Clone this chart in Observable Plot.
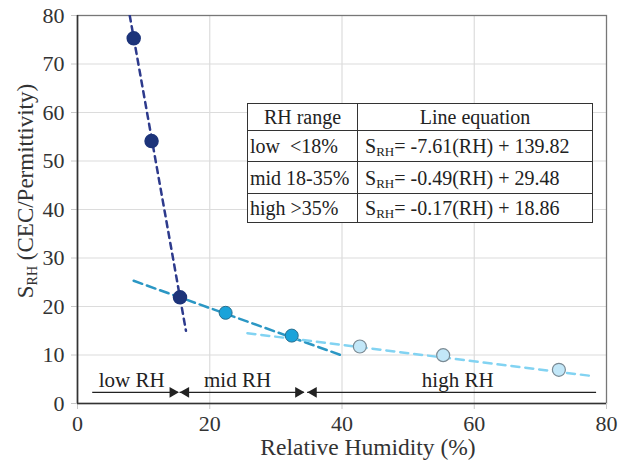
<!DOCTYPE html>
<html><head><meta charset="utf-8">
<script src="https://cdn.jsdelivr.net/npm/d3@7"></script>
<script src="https://cdn.jsdelivr.net/npm/@observablehq/plot@0.6"></script>
<style>
body{margin:0;background:#fff;}
#wrap{position:relative;width:621px;height:463px;font-family:'Liberation Serif','Times New Roman',serif;}
#wrap svg, #wrap svg text{font-family:'Liberation Serif','Times New Roman',serif !important;}
#tbl{position:absolute;left:247px;top:103px;width:345px;table-layout:fixed;border-collapse:collapse;background:#fff;font-size:20px;color:#222;font-family:'Liberation Serif','Times New Roman',serif;}
#tbl td{border:1.5px solid #333;padding:0 3px;white-space:pre;line-height:1;box-sizing:border-box;overflow:visible;}
#tbl sub{font-size:13px;vertical-align:baseline;position:relative;top:3px;}
</style></head><body><div id="wrap"></div>
<script>
// Data
const lowRH = [8.5, 11.2, 15.5];
const lowS = [75.3, 54.1, 21.9];
const midRH = [22.4, 32.4];
const midS = [18.7, 14.0];
const highRH = [42.7, 55.3, 72.8];
const highS = [11.75, 9.96, 6.95];

// Fit line end points
const lowFitX = [7.9, 16.4], lowFitY = [80, 15.0];
const midFitX = [8.5, 40.0], midFitY = [25.3, 9.9];
const highFitX = [25.7, 78.2], highFitY = [14.5, 5.6];

// RH range arrows
const rangeNames = ["low RH", "mid RH", "high RH"];
const rangeStart = [2.3, 15.5, 34.8];
const rangeEnd = [15.3, 34.3, 78.5];
const rangeLabelX = [8.2, 24.2, 57.5];
const arrowY = 2.3, labelY = 4.7;

// Table
const tableHeader = ["RH range", "Line equation"];
const tableRanges = ["low  <18%", "mid 18-35%", "high >35%"];
const slopes = ["-7.61", "-0.49", "-0.17"];
const intercepts = ["139.82", "29.48", "18.86"];

const xTicks = [0, 20, 40, 60, 80];
const yTicks = [0, 10, 20, 30, 40, 50, 60, 70, 80];

const pts = (xs, ys) => xs.map((x, i) => ({x, y: ys[i]}));
const arrows = rangeNames.map((n, i) => ({name: n, x1: rangeStart[i], x2: rangeEnd[i], y: arrowY, lx: rangeLabelX[i]}));
const rightHeads = [{x: rangeEnd[0], y: arrowY}, {x: rangeEnd[1], y: arrowY}];
const leftHeads = [{x: rangeStart[1], y: arrowY}, {x: rangeStart[2], y: arrowY}];

const chart = Plot.plot({
  width: 621, height: 463,
  marginLeft: 77, marginRight: 15, marginTop: 15, marginBottom: 60,
  style: {fontSize: "22px", color: "#333", background: "#fff", overflow: "visible"},
  x: {domain: [0, 80]},
  y: {domain: [0, 80]},
  marks: [
    Plot.gridX([20, 40, 60], {stroke: "#dcdcdc", strokeOpacity: 1, strokeWidth: 1.2}),
    Plot.gridY(yTicks.slice(1, -1), {stroke: "#dcdcdc", strokeOpacity: 1, strokeWidth: 1.2}),
    Plot.frame({stroke: "#777", strokeWidth: 1.3}),
    Plot.axisX({ticks: xTicks, tickSize: 6, tickPadding: 6, label: null, stroke: "#c8c8c8", fill: "#333"}),
    Plot.axisY({ticks: yTicks, tickSize: 6, tickPadding: 7, label: null, stroke: "#c8c8c8", fill: "#333"}),
    Plot.ruleX([0], {stroke: "#333", strokeWidth: 1.6}),
    Plot.ruleY([0], {stroke: "#333", strokeWidth: 1.6}),
    Plot.line(pts(lowFitX, lowFitY), {x: "x", y: "y", stroke: "#2D3A8C", strokeWidth: 2.5, strokeDasharray: "6,5", clip: true}),
    Plot.line(pts(midFitX, midFitY), {x: "x", y: "y", stroke: "#2B97C4", strokeWidth: 2.5, strokeDasharray: "9,5"}),
    Plot.line(pts(highFitX, highFitY), {x: "x", y: "y", stroke: "#82D3F2", strokeWidth: 2.5, strokeDasharray: "8,6"}),
    Plot.dot(pts(lowRH, lowS), {x: "x", y: "y", r: 6.5, fill: "#1D347A", stroke: "#1D347A"}),
    Plot.dot(pts(midRH, midS), {x: "x", y: "y", r: 6.5, fill: "#1AA3DA", stroke: "#2A6F8F", strokeWidth: 1}),
    Plot.dot(pts(highRH, highS), {x: "x", y: "y", r: 6.5, fill: "#C2E7F8", stroke: "#7A8A94", strokeWidth: 1.2}),
    Plot.ruleY(arrows, {x1: "x1", x2: "x2", y: "y", stroke: "#222", strokeWidth: 1.4}),
    Plot.dot(rightHeads, {x: "x", y: "y", symbol: "triangle", rotate: 90, r: 4, dx: -6, fill: "#222", stroke: "none"}),
    Plot.dot(leftHeads, {x: "x", y: "y", symbol: "triangle", rotate: -90, r: 4, dx: 6, fill: "#222", stroke: "none"}),
    Plot.text(arrows, {x: "lx", y: labelY, text: "name", fill: "#222", fontSize: 21})
  ]
});

const wrap = document.getElementById("wrap");
wrap.appendChild(chart);

const svg = d3.select(chart);
// X axis title
svg.append("text")
  .attr("x", 368).attr("y", 455)
  .attr("text-anchor", "middle")
  .attr("fill", "#333")
  .style("font-size", "23.5px")
  .text("Relative Humidity (%)");
// Y axis title with subscript
const yt = svg.append("text")
  .attr("transform", "translate(33,191) rotate(-90)")
  .attr("text-anchor", "middle")
  .attr("fill", "#333")
  .style("font-size", "23px");
yt.append("tspan").text("S");
yt.append("tspan").attr("dy", 4).style("font-size", "14px").text("RH");
yt.append("tspan").attr("dy", -4).text(" (CEC/Permittivity)");

// Table overlay
const colW = [110, 235];
const rowH = [27, 31, 32, 29];
const table = document.createElement("table");
table.id = "tbl";
let html = `<colgroup><col style="width:${colW[0]}px"><col style="width:${colW[1]}px"></colgroup>`;
html += `<tr style="height:${rowH[0]}px"><td style="text-align:center">${tableHeader[0]}</td><td style="text-align:center">${tableHeader[1]}</td></tr>`;
tableRanges.forEach((r, i) => {
  html += `<tr style="height:${rowH[i + 1]}px"><td style="padding-left:2px">${r}</td><td style="padding-left:7px">S<sub>RH</sub>= ${slopes[i]}(RH) + ${intercepts[i]}</td></tr>`;
});
table.innerHTML = html;
wrap.appendChild(table);
</script>
</body></html>
